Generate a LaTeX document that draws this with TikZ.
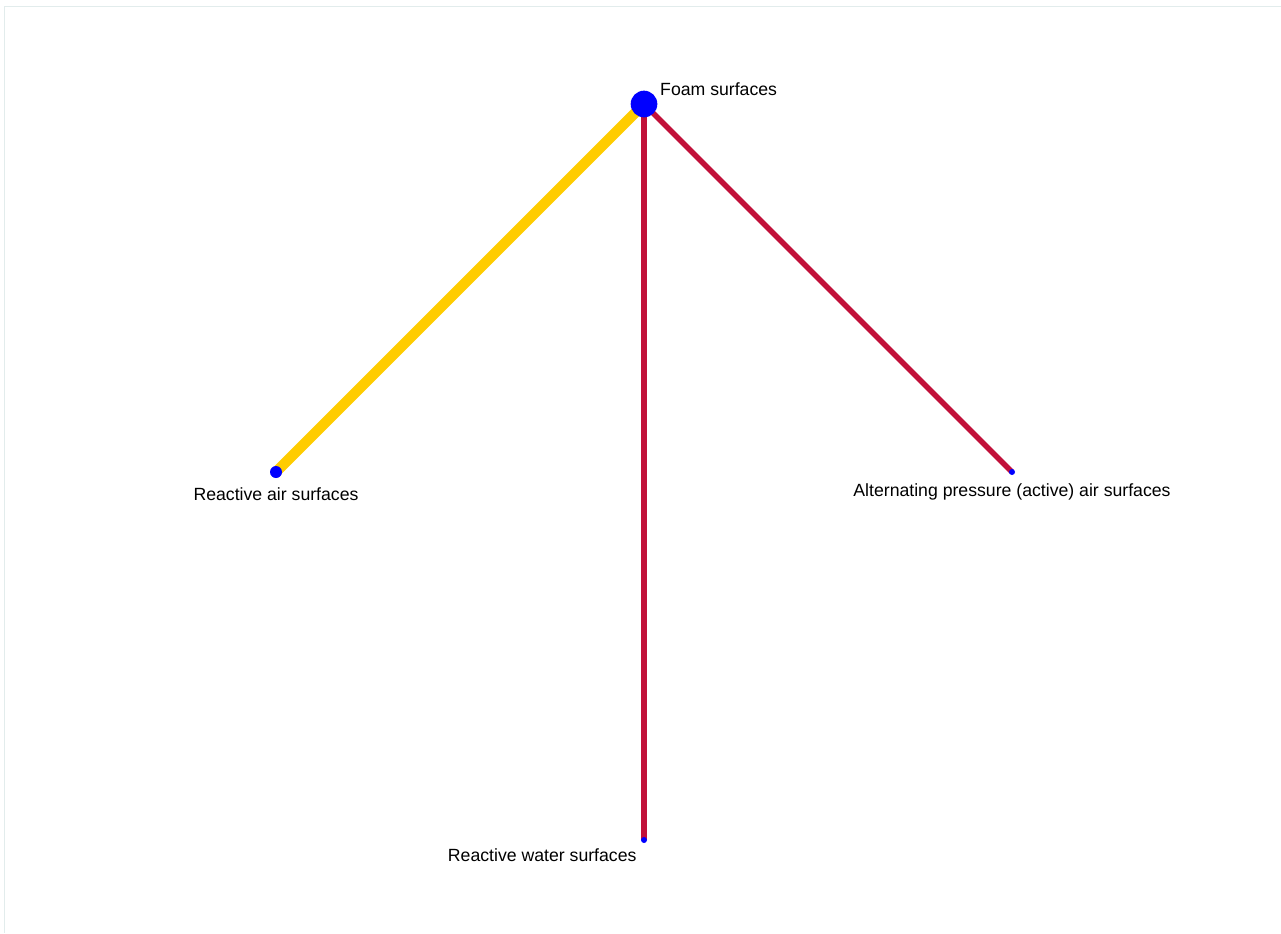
\documentclass[tikz,border=0pt]{standalone}
\usepackage{fontspec}
\setmainfont{Liberation Sans}
\usetikzlibrary{positioning,backgrounds}
\definecolor{linkgold}{HTML}{FFCC00}
\definecolor{linkred}{HTML}{C1113A}
\definecolor{framegray}{HTML}{E2ECEC}

\begin{document}
\begin{tikzpicture}[x=0.75pt,y=-0.75pt,
    vertex/.style={circle,fill=blue,inner sep=0pt},
    lbl/.style={inner sep=0pt,font=\fontsize{13.25}{15}\selectfont}]
  \useasboundingbox (0,0) rectangle (1281,933);
  \draw[framegray,line width=1pt] (4.5,933) |- (1281,6.5);
  % surfaces
  \node[vertex,minimum size=20pt] (foam) at (644,104) {};
  \node[vertex,minimum size=9pt] (air) at (276,472) {};
  \node[vertex,minimum size=4.5pt] (active) at (1012,472) {};
  \node[vertex,minimum size=4.5pt] (water) at (644,840) {};
  \node[lbl,right=1.75pt of foam,yshift=11.25pt] (foamlbl) {Foam surfaces};
  \node[lbl,below=6.5pt of air] (airlbl) {Reactive air surfaces};
  \node[lbl,below=6pt of active] (activelbl) {Alternating pressure (active) air surfaces};
  \node[lbl,below left=4.4pt and 3.7pt of water] (waterlbl) {Reactive water surfaces};
  % links
  \begin{scope}[on background layer]
    \draw[linkgold,line width=7.75pt] (foam.center) -- (air.center);
    \draw[linkred,line width=4pt] (foam.center) -- (water.center);
    \draw[linkred,line width=4pt] (foam.center) -- (active.center);
  \end{scope}
\end{tikzpicture}
\end{document}
